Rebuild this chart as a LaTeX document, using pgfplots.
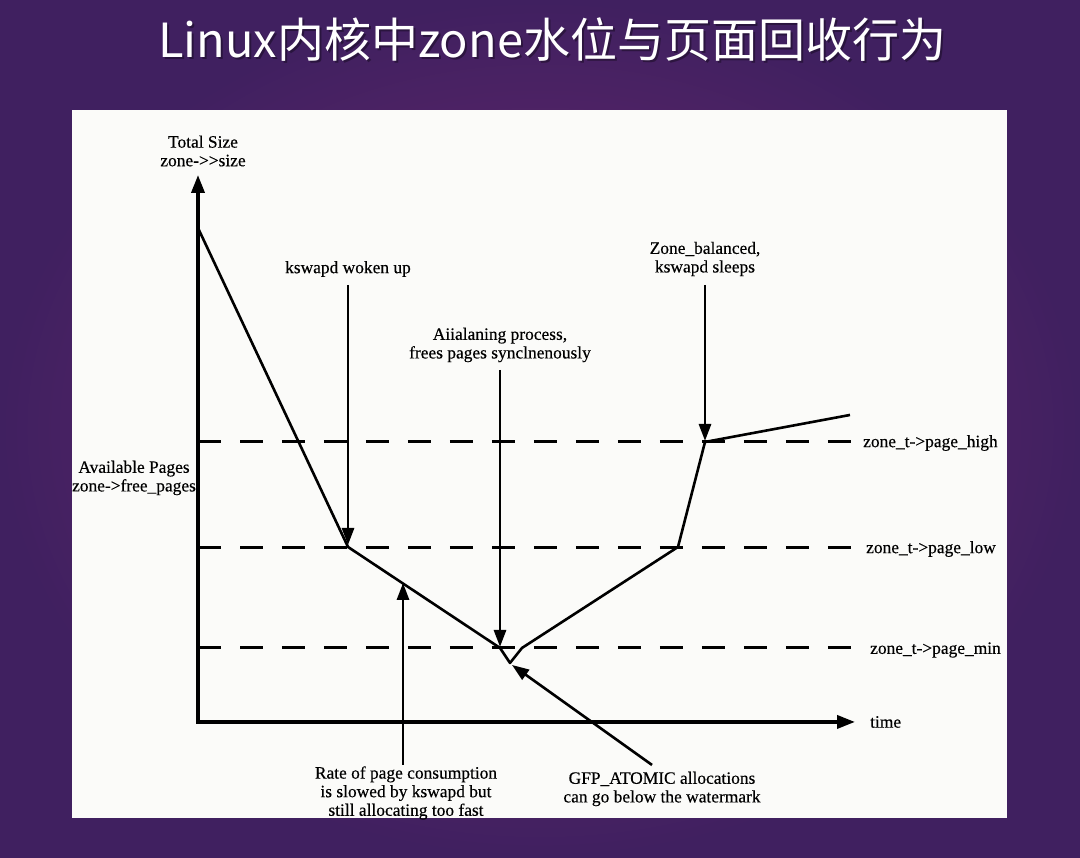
\documentclass[border=0pt]{standalone}
\usepackage{pgfplots}
\pgfplotsset{compat=1.18}
\usetikzlibrary{arrows.meta}
\usepackage{fontspec}
\setmainfont{Liberation Serif}
\newfontfamily\lblfont[FakeBold=0.35]{Liberation Serif}
\newfontfamily\cjk{Noto Sans CJK SC}
\definecolor{bginner}{RGB}{114,42,112}
\definecolor{bgouter}{RGB}{64,32,96}
\definecolor{panel}{RGB}{251,251,249}
\begin{document}
\begin{tikzpicture}
\begin{axis}[width=1080pt,height=858pt,scale only axis,
  xmin=-198,xmax=882,ymin=-136,ymax=722,hide axis,clip=false]
% background
\shade[inner color=bginner,outer color=bgouter] (axis cs:-198,-136) rectangle (axis cs:882,722);
% title
\node[text=black,opacity=0.35,font=\cjk\fontsize{47}{52}\selectfont] at (axis cs:356,680) {Linux内核中zone水位与页面回收行为};
\node[text=white,font=\cjk\fontsize{47}{52}\selectfont] at (axis cs:354,682) {Linux内核中zone水位与页面回收行为};
% panel
\fill[panel] (axis cs:-126,612) rectangle (axis cs:809,-96);
% watermarks
\addplot[black,line width=3pt,dash pattern=on 23pt off 19pt] coordinates {(0,280)(655,280)};
\addplot[black,line width=3pt,dash pattern=on 23pt off 19pt] coordinates {(0,174)(655,174)};
\addplot[black,line width=3pt,dash pattern=on 23pt off 19pt] coordinates {(0,74)(655,74)};
% axes
\addplot[black,line width=3.6pt,{Triangle[length=18pt,width=13pt]}-{Triangle[length=18pt,width=13pt]}] coordinates {(0,547)(0,0)(657,0)};
% free pages curve
\addplot[black,line width=2.6pt,line join=round] coordinates {(0,494)(150,175)(302,74)(312,59)(324,74)(480,175)(507,280)(652,307)};
% annotation arrows
\addplot[black,line width=2.9pt,-{Triangle[length=17pt,width=12pt]}] coordinates {(150,437)(150,177)};
\addplot[black,line width=2.9pt,-{Triangle[length=17pt,width=12pt]}] coordinates {(205,-43)(205,139)};
\addplot[black,line width=2.9pt,-{Triangle[length=17pt,width=12pt]}] coordinates {(302,352)(302,75)};
\addplot[black,line width=2.9pt,-{Triangle[length=17pt,width=12pt]}] coordinates {(507,437)(507,281)};
\addplot[black,line width=2.6pt,-{Triangle[length=17pt,width=12pt]}] coordinates {(454,-43)(314,57)};
% labels
\tikzset{lbl/.style={font=\lblfont\fontsize{17.4}{18.6}\selectfont,align=center,inner sep=0pt}}
\node[lbl] at (axis cs:5,571) {Total Size\\zone->{}>size};
\node[lbl] at (axis cs:150,453) {kswapd woken up};
\node[lbl] at (axis cs:302,377) {Aiialaning process,\\frees pages synclnenously};
\node[lbl] at (axis cs:507,463) {Zone\_balanced,\\kswapd sleeps};
\node[lbl] at (axis cs:-64,244) {Available Pages\\zone->free\_pages};
\node[lbl,anchor=west] at (axis cs:665,279) {zone\_t->page\_high};
\node[lbl,anchor=west] at (axis cs:668,173) {zone\_t->page\_low};
\node[lbl,anchor=west] at (axis cs:672,72) {zone\_t->page\_min};
\node[lbl,anchor=west] at (axis cs:672,0) {time};
\node[lbl] at (axis cs:208,-71) {Rate of page consumption\\is slowed by kswapd but\\still allocating too fast};
\node[lbl] at (axis cs:464,-67) {GFP\_ATOMIC allocations\\can go below the watermark};
\end{axis}
\end{tikzpicture}
\end{document}
